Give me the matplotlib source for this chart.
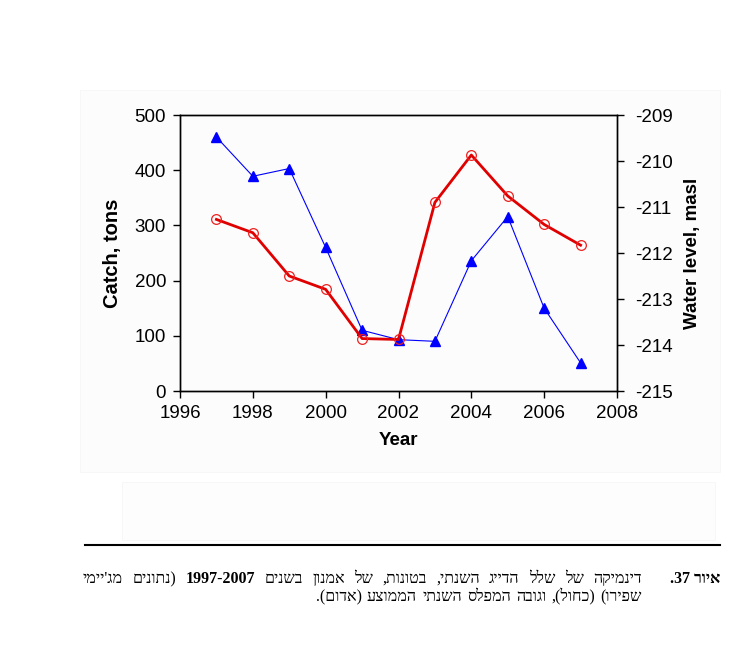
import re
import matplotlib
matplotlib.use('Agg')
import matplotlib.pyplot as plt
from matplotlib.patches import Rectangle
from matplotlib.lines import Line2D

# data
years = [1997, 1998, 1999, 2000, 2001, 2002, 2003, 2004, 2005, 2006, 2007]
catch = [460, 389, 403, 260, 110, 93, 90, 236, 316, 150, 51]
level = [-211.27, -211.56, -212.50, -212.79, -213.86, -213.88,
         -210.90, -209.87, -210.76, -211.38, -211.83]

x_ticks = [1996, 1998, 2000, 2002, 2004, 2006, 2008]
catch_ticks = [0, 100, 200, 300, 400, 500]
level_ticks = [-215, -214, -213, -212, -211, -210, -209]

caption_label = "איור 37."
caption_line1 = [("דינמיקה", False), ("של", False), ("שלל", False), ("הדייג", False),
                 ("השנתי,", False), ("בטונות,", False), ("של", False), ("אמנון", False),
                 ("בשנים", False), ("1997-2007", True), ("(נתונים", False), ("מג'יימי", False)]
caption_line2 = ["שפירו)", "(כחול),", "וגובה", "המפלס", "השנתי", "הממוצע", "(אדום)."]

W, H = 739, 645
sans = ['Liberation Sans', 'DejaVu Sans']
serif = ['Liberation Serif', 'DejaVu Sans']
plt.rcParams['axes.unicode_minus'] = False

MIRROR = str.maketrans('()', ')(')


def visual(word):
    # matplotlib has no bidi: flip the hebrew, keep numbers left to right
    rev = word[::-1].translate(MIRROR)
    return re.sub(r'[0-9][0-9\-]*[0-9]|[0-9]', lambda m: m.group(0)[::-1], rev)


def fx(px):
    return px / W


def fy(py):
    return 1 - py / H


fig = plt.figure(figsize=(W / 100, H / 100), dpi=100)
fig.patch.set_facecolor('white')

# faint scan boxes behind everything
fig.patches.append(Rectangle((fx(80), fy(472)), fx(720) - fx(80), fy(90) - fy(472),
                             transform=fig.transFigure, facecolor='#fcfcfc',
                             edgecolor='#f6f6f6', lw=0.6, zorder=-5))
fig.patches.append(Rectangle((fx(122), fy(540)), fx(715) - fx(122), fy(482) - fy(540),
                             transform=fig.transFigure, facecolor='#fdfdfd',
                             edgecolor='#f7f7f7', lw=0.6, zorder=-5))

ax = fig.add_axes([fx(180), fy(391), fx(617) - fx(180), fy(115) - fy(391)])
ax.set_facecolor('none')
ax2 = ax.twinx()

ax.plot(years, catch, color='#0000ff', lw=0.8, marker='^', ms=7.5,
        markerfacecolor='#0000ff', markeredgecolor='#0000ff', zorder=3)
ax2.plot(years, level, color='#e00000', lw=2.0, marker='o', ms=7,
         markerfacecolor='none', markeredgecolor='#f02020', markeredgewidth=0.9, zorder=2)

ax.set_xlim(1996, 2008)
ax.set_ylim(0, 500)
ax2.set_ylim(-215, -209)
ax.set_xticks(x_ticks)
ax.set_yticks(catch_ticks)
ax2.set_yticks(level_ticks)

for a in (ax, ax2):
    for s in a.spines.values():
        s.set_linewidth(1.0)
        s.set_color('black')
    a.tick_params(direction='out', length=5, width=1.0, labelsize=13.5, pad=5)
    for lab in a.get_xticklabels() + a.get_yticklabels():
        lab.set_family(sans)
ax2.tick_params(axis='y', pad=8)
ax.tick_params(axis='y', pad=5)

ax.set_xlabel('Year', fontsize=13.5, fontweight='bold', family=sans, labelpad=7)
ax.set_ylabel('Catch, tons', fontsize=14.5, fontweight='bold', family=sans, labelpad=9)
ax2.set_ylabel('Water level, masl', fontsize=13.5, fontweight='bold', family=sans,
               labelpad=8, rotation=90)

# rule above caption
fig.add_artist(Line2D([fx(85), fx(720)], [fy(545), fy(545)], color='black', lw=1.5))

# caption, laid out right to left by hand
renderer = fig.canvas.get_renderer()
cap_size = 11.5
base1 = fy(583)
base2 = fy(601)

lab = fig.text(fx(720), base1, visual(caption_label), ha='right', va='baseline',
               fontsize=cap_size, fontweight='bold', family=serif)
lab_w = lab.get_window_extent(renderer).width
right1 = 720 - lab_w - 28
left1 = 83

items = []
for word, bold in caption_line1:
    t = fig.text(0, base1, visual(word), ha='right', va='baseline', fontsize=cap_size,
                 fontweight='bold' if bold else 'normal', family=serif)
    items.append((t, t.get_window_extent(renderer).width))
gap = (right1 - left1 - sum(w for _, w in items)) / (len(items) - 1)
x = right1
for t, w in items:
    t.set_x(fx(x))
    x -= w + gap

space = fig.text(0, 0, 'a a', fontsize=cap_size, family=serif)
space_w = space.get_window_extent(renderer).width
aa = fig.text(0, 0, 'aa', fontsize=cap_size, family=serif)
space_w -= aa.get_window_extent(renderer).width
space.remove()
aa.remove()

x = right1
for word in caption_line2:
    t = fig.text(fx(x), base2, visual(word), ha='right', va='baseline',
                 fontsize=cap_size, family=serif)
    x -= t.get_window_extent(renderer).width + space_w * 1.3

fig.savefig('out.png', dpi=100, facecolor='white')
